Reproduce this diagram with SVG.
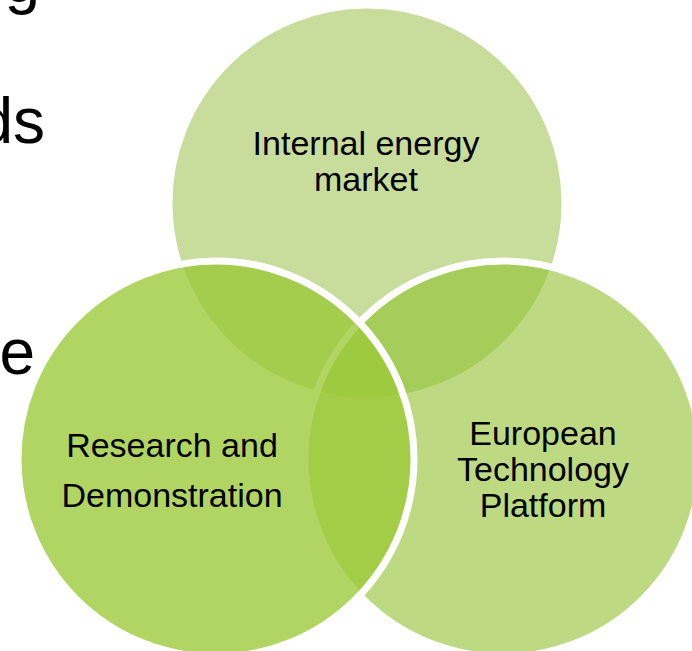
<svg xmlns="http://www.w3.org/2000/svg" width="692" height="651" viewBox="0 0 692 651">
  <style>
    .label { font-family: "Liberation Sans", Arial, sans-serif; font-size: 34px; fill: #000; text-anchor: middle; }
    .body { font-family: "Liberation Sans", Arial, sans-serif; font-size: 64px; fill: #000; text-anchor: end; }
    .ring { stroke: #fff; stroke-width: 7; }
  </style>
  <rect width="692" height="651" fill="#fff"/>

  <!-- slide body text running behind the diagram -->
  <g id="body-text">
    <text class="body" x="40" y="2">g</text>
    <text class="body" x="45" y="143">ds</text>
    <text class="body" x="35" y="374">e</text>
  </g>

  <g id="connectors"/>

  <!-- top set -->
  <g id="node-internal-energy-market">
    <circle class="ring" cx="367" cy="203" r="198" fill="#C8DC9C"/>
    <text class="label" x="366" y="155">Internal energy</text>
    <text class="label" x="366" y="191">market</text>
  </g>

  <!-- right set -->
  <g id="node-european-technology-platform">
    <circle class="ring" cx="503" cy="459" r="198" fill="#8FC02B" fill-opacity="0.59"/>
  </g>

  <!-- left set -->
  <g id="node-research-and-demonstration">
    <circle class="ring" cx="216" cy="459" r="198" fill="#9BC937" fill-opacity="0.78"/>
  </g>

  <!-- labels kept above every fill -->
  <g id="labels">
    <text class="label" x="543" y="445">European</text>
    <text class="label" x="543" y="481">Technology</text>
    <text class="label" x="543" y="517">Platform</text>
    <text class="label" x="172" y="457">Research and</text>
    <text class="label" x="172" y="507">Demonstration</text>
  </g>
</svg>
